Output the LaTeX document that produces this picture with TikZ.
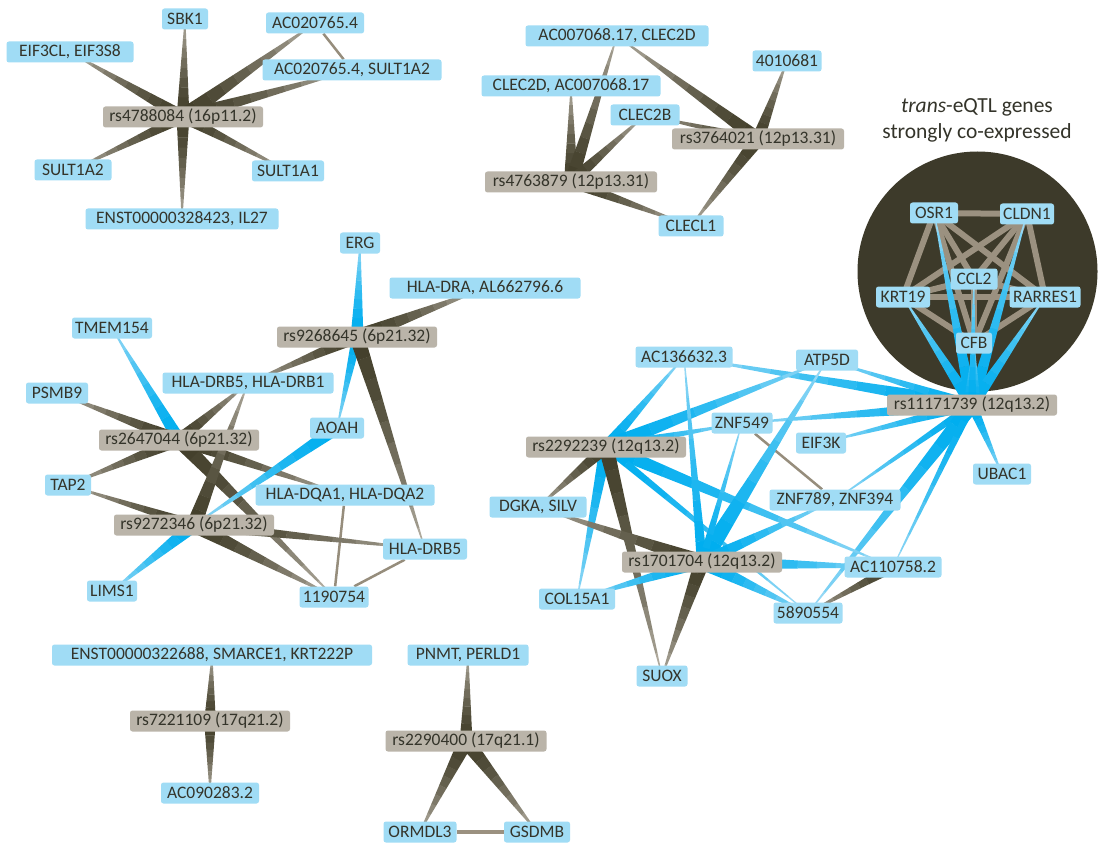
\documentclass[tikz,border=0pt]{standalone}
\usepackage{fontspec}
\setmainfont{Carlito}
\usetikzlibrary{calc}
\usetikzlibrary{backgrounds}

\definecolor{genefill}{RGB}{160,220,245}
\definecolor{snpfill}{RGB}{186,180,169}
\definecolor{labeltext}{RGB}{52,52,42}
\definecolor{hubfill}{RGB}{61,58,42}
\definecolor{coexline}{RGB}{155,145,128}
\definecolor{linkbrown}{RGB}{150,141,124}
\definecolor{bdark}{RGB}{68,64,44}
\definecolor{blight}{RGB}{192,186,174}
\definecolor{cdark}{RGB}{0,174,239}
\definecolor{clight}{RGB}{172,223,246}

\tikzset{
  gene/.style={fill=genefill,rounded corners=2.5pt,minimum height=21pt,inner sep=0pt,
    text=labeltext,font=\fontsize{17.5}{19}\selectfont},
  snp/.style={gene,fill=snpfill},
  coex/.style={draw=coexline,line width=6pt},
  genelink/.style={draw=linkbrown,line width=2.5pt},
}

% tapered edge, wide at #1 and thin at #2
\newcommand{\taper}[5]{%
  \path let \p1=(#1.center), \p2=(#2.center),
    \n1={atan2(\y2-\y1,\x2-\x1)}, \n2={veclen(\x2-\x1,\y2-\y1)} in
    \pgfextra{\xdef\tpang{\n1}\xdef\tplen{\n2}\xdef\tpx{\x1}\xdef\tpy{\y1}};
  \begin{scope}[shift={(\tpx,\tpy)},rotate=\tpang]
    \foreach \i in {0,...,9}{%
      \pgfmathsetmacro{\xa}{\tplen*\i/10}%
      \pgfmathsetmacro{\xb}{\tplen*(\i+1)/10+0.3}%
      \pgfmathsetmacro{\wa}{1.2*#3*(10-\i)/20+0.4}%
      \pgfmathsetmacro{\wb}{1.2*#3*(9-\i)/20+0.4}%
      \pgfmathtruncatemacro{\mx}{100*(1-(\i/10)^1.5)}%
      \fill[#4!\mx!#5] (\xa pt,\wa pt) -- (\xb pt,\wb pt) -- (\xb pt,-\wb pt) -- (\xa pt,-\wa pt) -- cycle;
    }
  \end{scope}}
\newcommand{\cisedge}[3]{\taper{#1}{#2}{#3}{bdark}{blight}}
\newcommand{\transedge}[3]{\taper{#1}{#2}{#3}{cdark}{clight}}

\begin{document}
\begin{tikzpicture}[x=1pt,y=-1pt]
\useasboundingbox (0,0) rectangle (1103,845);

% 16p11.2
\node (sbk) [gene,minimum width=46pt] at (185,19) {SBK1};
\node (acA) [gene,minimum width=98pt] at (315,23) {AC020765.4};
\node (eif3cl) [gene,minimum width=127pt] at (70,52) {EIF3CL, EIF3S8};
\node (acAsult) [gene,minimum width=179pt] at (352,70) {AC020765.4, SULT1A2};
\node (rsA) [snp,minimum width=160pt] at (183,117) {rs4788084 (16p11.2)};
\node (sult2) [gene,minimum width=77pt] at (73,170) {SULT1A2};
\node (sult1) [gene,minimum width=72pt] at (288,171) {SULT1A1};
\node (enstA) [gene,minimum width=193pt] at (182,219) {ENST00000328423, IL27};

% 12p13.31
\node (acC) [gene,minimum width=183pt] at (617,36) {AC007068.17, CLEC2D};
\node (n401) [gene,minimum width=69pt] at (787,61) {4010681};
\node (clecD) [gene,minimum width=179pt] at (571,86) {CLEC2D, AC007068.17};
\node (clecB) [gene,minimum width=69pt] at (645,115) {CLEC2B};
\node (rsC) [snp,minimum width=172pt] at (758,139) {rs3764021 (12p13.31)};
\node (rsB) [snp,minimum width=172pt] at (571,182) {rs4763879 (12p13.31)};
\node (clecL) [gene,minimum width=65pt] at (691,226) {CLECL1};

% co-expressed genes
\node (title) [font=\fontsize{21.5}{26}\selectfont,text=labeltext,align=center] at (977,120)
  {\textit{trans}-eQTL genes\\strongly co-expressed};
\node (osr) [gene,minimum width=48pt] at (934,213) {OSR1};
\node (cldn) [gene,minimum width=54pt] at (1027,214) {CLDN1};
\node (ccl) [gene,minimum width=47pt] at (974,279) {CCL2};
\node (krt) [gene,minimum width=54pt] at (903,297) {KRT19};
\node (rarr) [gene,minimum width=71pt] at (1045,297) {RARRES1};
\node (cfb) [gene,minimum width=36pt] at (974,343) {CFB};

% 12q13.2
\node (acD) [gene,minimum width=97pt] at (684,357) {AC136632.3};
\node (atp) [gene,minimum width=62pt] at (827,360) {ATP5D};
\node (rsE) [snp,minimum width=170pt] at (972,405) {rs11171739 (12q13.2)};
\node (znfA) [gene,minimum width=61pt] at (742,423) {ZNF549};
\node (eif3k) [gene,minimum width=50pt] at (821,443) {EIF3K};
\node (rsD) [snp,minimum width=160pt] at (606,447) {rs2292239 (12q13.2)};
\node (ubac) [gene,minimum width=58pt] at (1002,474) {UBAC1};
\node (dgka) [gene,minimum width=97pt] at (538,507) {DGKA, SILV};
\node (znfB) [gene,minimum width=131pt] at (835,500) {ZNF789, ZNF394};
\node (rsF) [snp,minimum width=160pt] at (702,562) {rs1701704 (12q13.2)};
\node (ac110) [gene,minimum width=97pt] at (893,567) {AC110758.2};
\node (col) [gene,minimum width=76pt] at (577,599) {COL15A1};
\node (n589) [gene,minimum width=69pt] at (808,613) {5890554};
\node (suox) [gene,minimum width=51pt] at (662,676) {SUOX};

% 6p21.32
\node (erg) [gene,minimum width=40pt] at (360,243) {ERG};
\node (hladra) [gene,minimum width=191pt] at (485,288) {HLA-DRA, AL662796.6};
\node (tmem) [gene,minimum width=80pt] at (112,328) {TMEM154};
\node (rsG) [snp,minimum width=160pt] at (357,337) {rs9268645 (6p21.32)};
\node (drb51) [gene,minimum width=171pt] at (248,383) {HLA-DRB5, HLA-DRB1};
\node (psmb) [gene,minimum width=62pt] at (57,393) {PSMB9};
\node (rsH) [snp,minimum width=160pt] at (179,440) {rs2647044 (6p21.32)};
\node (aoah) [gene,minimum width=54pt] at (337,428) {AOAH};
\node (tap) [gene,minimum width=46pt] at (68,485) {TAP2};
\node (dqa) [gene,minimum width=179pt] at (345,495) {HLA-DQA1, HLA-DQA2};
\node (rsI) [snp,minimum width=160pt] at (194,525) {rs9272346 (6p21.32)};
\node (drb5) [gene,minimum width=84pt] at (425,549) {HLA-DRB5};
\node (lims) [gene,minimum width=50pt] at (112,591) {LIMS1};
\node (n119) [gene,minimum width=69pt] at (334,597) {1190754};

% 17q21
\node (ensB) [gene,minimum width=320pt] at (212,655) {ENST00000322688, SMARCE1, KRT222P};
\node (rsJ) [snp,minimum width=160pt] at (210,721) {rs7221109 (17q21.2)};
\node (ac090) [gene,minimum width=98pt] at (210,793) {AC090283.2};
\node (pnmt) [gene,minimum width=121pt] at (468,655) {PNMT, PERLD1};
\node (rsK) [snp,minimum width=161pt] at (466,741) {rs2290400 (17q21.1)};
\node (ormdl) [gene,minimum width=73pt] at (420,832) {ORMDL3};
\node (gsdmb) [gene,minimum width=66pt] at (537,832) {GSDMB};

\begin{pgfonlayer}{background}
\fill[white] (0,0) rectangle (1103,845);
\node (hub) [circle,fill=hubfill,minimum size=240pt,inner sep=0pt] at (977.5,271.5) {};
\foreach \a/\b in {osr/cldn,osr/ccl,osr/krt,osr/rarr,osr/cfb,cldn/ccl,cldn/krt,cldn/rarr,
  cldn/cfb,ccl/krt,ccl/rarr,ccl/cfb,krt/rarr,krt/cfb,rarr/cfb}
  \draw[coex] (\a.center) -- (\b.center);

\draw[genelink] (acA) -- (acAsult);
\draw[genelink] (znfA) -- (znfB);
\draw[genelink] (dqa) -- (n119);
\draw[genelink] (drb5) -- (n119);
\draw[genelink,line width=4pt,draw=coexline] (ormdl) -- (gsdmb);

\cisedge{rsA}{sbk}{10}
\cisedge{rsA}{acA}{13}
\cisedge{rsA}{acAsult}{11}
\cisedge{rsA}{eif3cl}{10}
\cisedge{rsA}{sult2}{9}
\cisedge{rsA}{sult1}{9}
\cisedge{rsA}{enstA}{10}

\cisedge{rsB}{clecD}{11}
\cisedge{rsB}{acC}{11}
\cisedge{rsB}{clecB}{10}
\cisedge{rsB}{clecL}{9}
\cisedge{rsC}{acC}{11}
\cisedge{rsC}{n401}{10}
\cisedge{rsC}{clecB}{6}
\cisedge{rsC}{clecL}{11}

\transedge{rsE}{osr}{10}
\transedge{rsE}{cldn}{10}
\transedge{rsE}{krt}{10}
\transedge{rsE}{rarr}{10}
\transedge{rsE}{cfb}{14}
\transedge{rsE}{ccl}{6}
\transedge{rsE}{acD}{11}
\transedge{rsE}{atp}{8}
\transedge{rsE}{znfA}{10}
\transedge{rsE}{eif3k}{8}
\transedge{rsE}{ubac}{8}
\transedge{rsE}{znfB}{6}
\transedge{rsE}{n589}{12}
\transedge{rsE}{ac110}{6}
\transedge{rsD}{acD}{9}
\transedge{rsD}{atp}{12}
\transedge{rsD}{znfA}{8}
\transedge{rsD}{col}{10}
\transedge{rsD}{ac110}{11}
\transedge{rsD}{n589}{6}
\cisedge{rsD}{dgka}{10}
\cisedge{rsD}{suox}{12}
\transedge{rsF}{acD}{8}
\transedge{rsF}{atp}{14}
\transedge{rsF}{znfA}{6}
\transedge{rsF}{znfB}{10}
\transedge{rsF}{ac110}{12}
\transedge{rsF}{n589}{12}
\transedge{rsF}{col}{10}
\cisedge{rsF}{dgka}{12}
\cisedge{rsF}{suox}{12}
\cisedge{ac110}{n589}{8}

\transedge{rsG}{erg}{10}
\cisedge{rsG}{hladra}{12}
\cisedge{rsG}{drb51}{10}
\transedge{rsG}{aoah}{8}
\cisedge{rsG}{drb5}{12}
\transedge{rsH}{tmem}{10}
\cisedge{rsH}{psmb}{10}
\cisedge{rsH}{drb51}{10}
\cisedge{rsH}{tap}{10}
\cisedge{rsH}{dqa}{10}
\cisedge{rsH}{n119}{12}
\cisedge{rsI}{drb51}{12}
\cisedge{rsI}{tap}{8}
\cisedge{rsI}{drb5}{9}
\cisedge{rsI}{n119}{12}
\transedge{rsI}{lims}{11}
\transedge{aoah}{rsI}{10}

\cisedge{rsJ}{ensB}{9}
\cisedge{rsJ}{ac090}{9}
\cisedge{rsK}{pnmt}{10}
\cisedge{rsK}{ormdl}{12}
\cisedge{rsK}{gsdmb}{12}
\end{pgfonlayer}
\end{tikzpicture}
\end{document}
